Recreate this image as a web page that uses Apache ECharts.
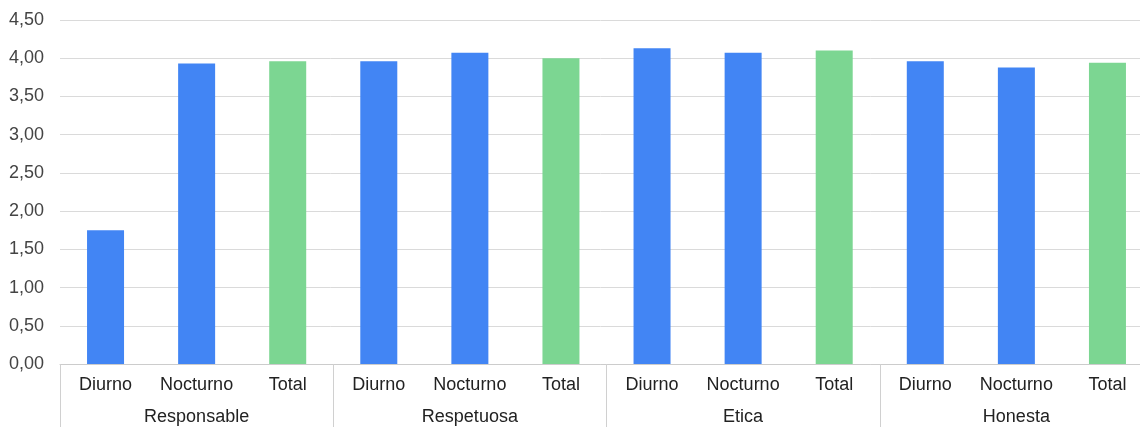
<!DOCTYPE html>
<html>
<head>
<meta charset="utf-8">
<script src="https://cdn.jsdelivr.net/npm/echarts@6/dist/echarts.min.js"></script>
<style>html,body{margin:0;padding:0;background:#fff;}#c{width:1140px;height:427px;}</style>
</head>
<body>
<div id="c"></div>
<script>
var groups = ['Responsable', 'Respetuosa', 'Etica', 'Honesta'];
var subcats = ['Diurno', 'Nocturno', 'Total'];
var diurno = [1.75, 3.96, 4.13, 3.96];
var nocturno = [3.93, 4.07, 4.07, 3.88];
var total = [3.96, 4.00, 4.10, 3.94];
var yTicks = { min: 0, max: 4.5, interval: 0.5 };

var BLUE = '#4285f4', GREEN = '#7cd692';
var cats = [], data = [];
groups.forEach(function (g, i) {
  var vals = [diurno[i], nocturno[i], total[i]];
  subcats.forEach(function (s, j) {
    cats.push(s);
    data.push({ value: vals[j], itemStyle: { color: j === 2 ? GREEN : BLUE } });
  });
});

var chart = echarts.init(document.getElementById('c'), null, { renderer: 'canvas' });
chart.setOption({
  animation: false,
  textStyle: { fontFamily: 'Liberation Sans, Arial, sans-serif' },
  grid: { left: 60, top: 20, right: -13, bottom: 63, containLabel: false, outerBoundsMode: 'none' },
  xAxis: [
    {
      type: 'category', data: cats, position: 'bottom',
      axisLine: { show: true, lineStyle: { color: '#cccccc', width: 1 } },
      axisTick: { show: false },
      axisLabel: { interval: 0, margin: 12, fontSize: 18, color: '#222222' }
    },
    {
      type: 'category', data: groups, position: 'bottom',
      axisLine: { show: false },
      axisTick: { show: true, interval: 0, length: 70, lineStyle: { color: '#d0d0d0' } },
      axisLabel: { interval: 0, margin: 44, fontSize: 18, color: '#222222' }
    }
  ],
  yAxis: {
    type: 'value', min: yTicks.min, max: yTicks.max, interval: yTicks.interval,
    axisLine: { show: false }, axisTick: { show: false },
    splitLine: { lineStyle: { color: '#dadada', width: 1 } },
    axisLabel: {
      margin: 16, fontSize: 18, color: '#444444',
      formatter: function (v) { return v.toFixed(2).replace('.', ','); }
    }
  },
  series: [{
    type: 'bar', xAxisIndex: 0, data: data, barWidth: 37
  }]
});
</script>
</body>
</html>
